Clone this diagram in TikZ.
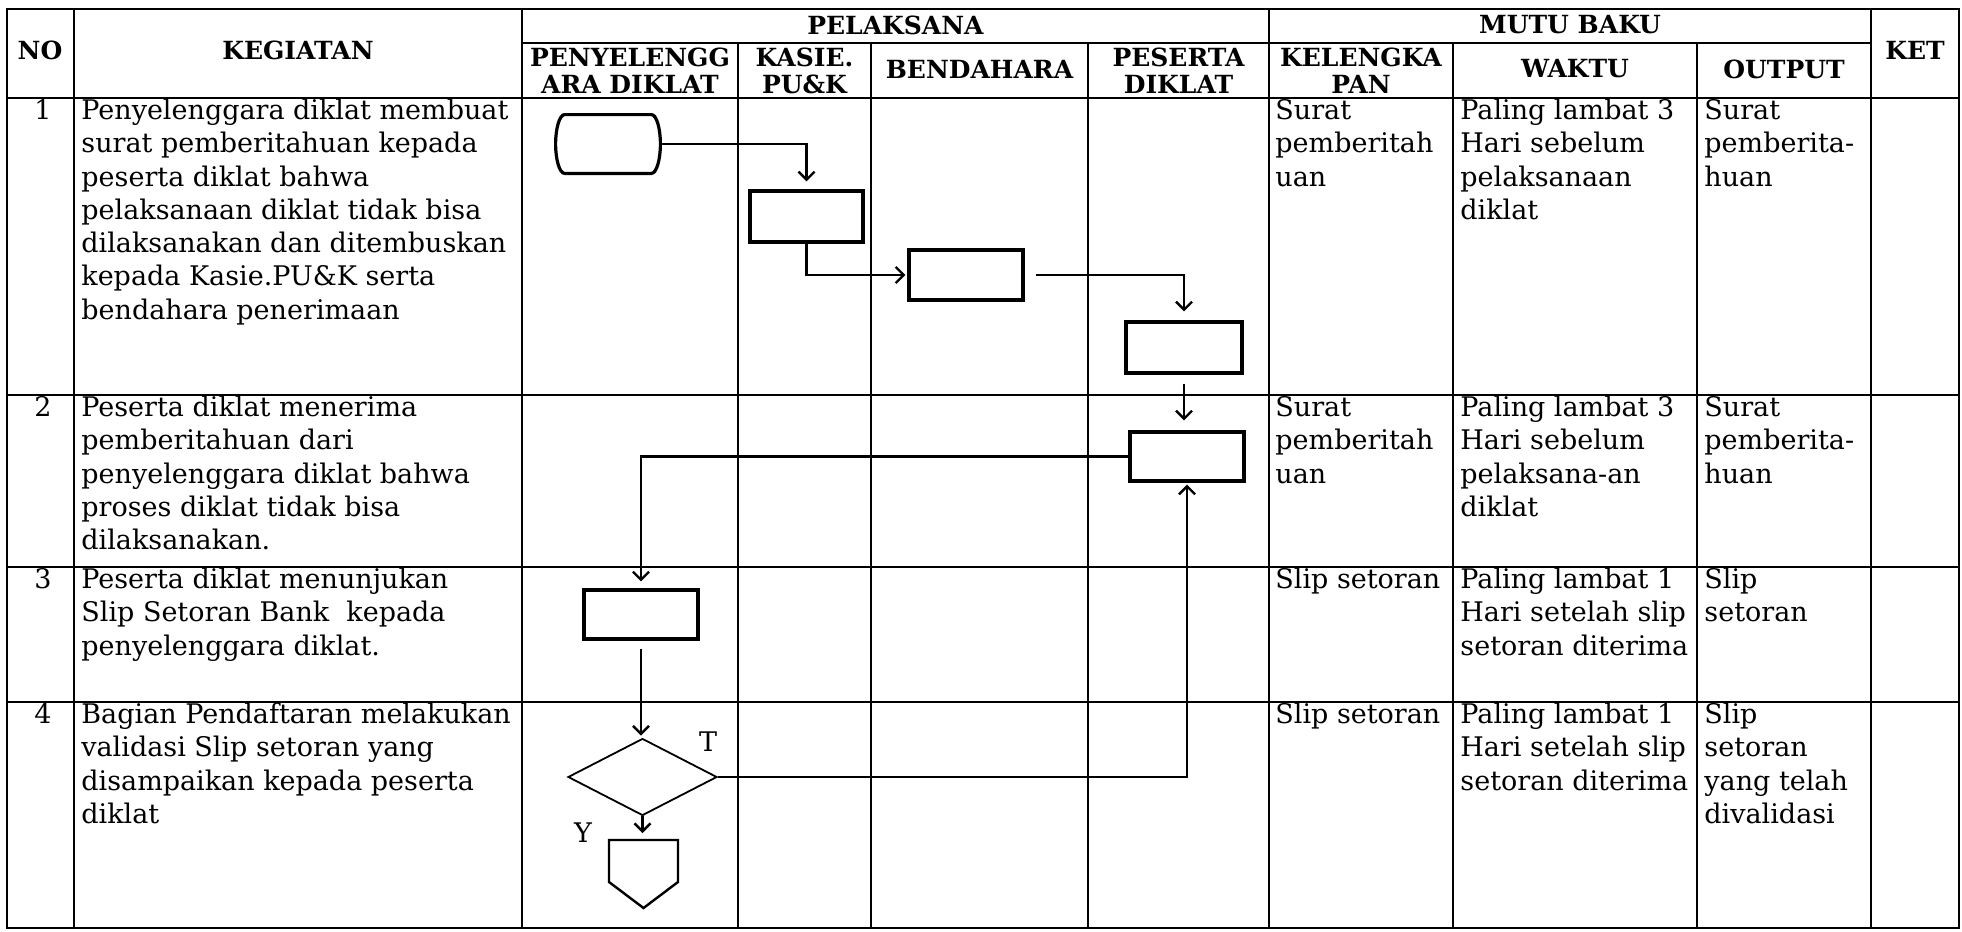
\documentclass[tikz,border=0pt]{standalone}
\usepackage{fontspec}
\setmainfont{DejaVu Serif}
\usetikzlibrary{arrows.meta,shapes.geometric}
\newcommand{\fl}{\rule{0pt}{11pt}}
\tikzset{
  gridline/.style={line width=0.8pt, black},
  hd/.style={font=\fontsize{12.5}{13.5}\selectfont\bfseries, inner sep=0pt, align=center},
  tx/.style={font=\fontsize{13.5}{16.65}\selectfont, inner sep=0pt, align=left, anchor=north west},
  num/.style={font=\fontsize{13.5}{16.65}\selectfont, inner sep=0pt, anchor=north},
  proc/.style={draw, line width=1.6pt, rectangle, inner sep=0pt},
  termbox/.style={rectangle, inner sep=0pt, minimum width=52pt, minimum height=29pt},
  dec/.style={draw, line width=0.9pt, diamond, inner sep=0pt, minimum width=74.5pt, minimum height=38.5pt},
  conn/.style={line width=1.2pt, -{Straight Barb[length=4pt,width=8pt]}},
  lab/.style={font=\fontsize{13.5}{15}\selectfont, inner sep=0pt},
}
\begin{document}
\begin{tikzpicture}[x=0.5pt,y=-0.5pt]
\useasboundingbox (0,0) rectangle (1962,931);
\fill[white] (0,0) rectangle (1962,931);

% table grid
\draw[gridline] (7,9) rectangle (1959,928);
\draw[gridline] (522,43) -- (1871,43);
\foreach \y in {98,395,567,702} \draw[gridline] (7,\y) -- (1959,\y);
\foreach \x in {74,522,1269,1871} \draw[gridline] (\x,9) -- (\x,928);
\foreach \x in {738,871,1088,1453,1697} \draw[gridline] (\x,43) -- (\x,928);

% headers
\node[hd] (hno) at (40,50) {NO};
\node[hd] (hkeg) at (298,50) {KEGIATAN};
\node[hd] (hpel) at (895.5,25) {PELAKSANA};
\node[hd] (hpen) at (630,71) {PENYELENGG\\ARA DIKLAT};
\node[hd] (hkas) at (804.5,71) {KASIE.\\PU\&K};
\node[hd] (hben) at (979.5,69) {BENDAHARA};
\node[hd] (hpes) at (1178.5,71) {PESERTA\\DIKLAT};
\node[hd] (hmut) at (1570,25) {MUTU BAKU};
\node[hd] (hkel) at (1361,71) {KELENGKA\\PAN};
\node[hd] (hwak) at (1575,69) {WAKTU};
\node[hd] (hout) at (1784,69) {OUTPUT};
\node[hd] (hket) at (1915,50) {KET};

% row 1
\node[num] (n1) at (43,97) {\fl 1};
\node[tx] (k1) at (81,97) {\fl Penyelenggara diklat membuat\\surat pemberitahuan kepada\\peserta diklat bahwa\\pelaksanaan diklat tidak bisa\\dilaksanakan dan ditembuskan\\kepada Kasie.PU\&K serta\\bendahara penerimaan};
\node[tx] (l1) at (1275,97) {\fl Surat\\pemberitah\\uan};
\node[tx] (w1) at (1460,97) {\fl Paling lambat 3\\Hari sebelum\\pelaksanaan\\diklat};
\node[tx] (o1) at (1704,97) {\fl Surat\\pemberita-\\huan};

% row 2
\node[num] (n2) at (43,394) {\fl 2};
\node[tx] (k2) at (81,394) {\fl Peserta diklat menerima\\pemberitahuan dari\\penyelenggara diklat bahwa\\proses diklat tidak bisa\\dilaksanakan.};
\node[tx] (l2) at (1275,394) {\fl Surat\\pemberitah\\uan};
\node[tx] (w2) at (1460,394) {\fl Paling lambat 3\\Hari sebelum\\pelaksana-an\\diklat};
\node[tx] (o2) at (1704,394) {\fl Surat\\pemberita-\\huan};

% row 3
\node[num] (n3) at (43,566) {\fl 3};
\node[tx] (k3) at (81,566) {\fl Peserta diklat menunjukan\\Slip Setoran Bank\ \ kepada\\penyelenggara diklat.};
\node[tx] (l3) at (1275,566) {\fl Slip setoran};
\node[tx] (w3) at (1460,566) {\fl Paling lambat 1\\Hari setelah slip\\setoran diterima};
\node[tx] (o3) at (1704,566) {\fl Slip\\setoran};

% row 4
\node[num] (n4) at (43,701) {\fl 4};
\node[tx] (k4) at (81,701) {\fl Bagian Pendaftaran melakukan\\validasi Slip setoran yang\\disampaikan kepada peserta\\diklat};
\node[tx] (l4) at (1275,701) {\fl Slip setoran};
\node[tx] (w4) at (1460,701) {\fl Paling lambat 1\\Hari setelah slip\\setoran diterima};
\node[tx] (o4) at (1704,701) {\fl Slip\\setoran\\yang telah\\divalidasi};

% flow shapes
\node[termbox] (t1) at (608,144) {};
\draw[line width=1.6pt] ([xshift=4.5pt]t1.north west) -- ([xshift=-4.5pt]t1.north east)
  .. controls ([xshift=-2pt]t1.north east) and ([yshift=8pt]t1.east) .. (t1.east)
  .. controls ([yshift=-8pt]t1.east) and ([xshift=-2pt]t1.south east) .. ([xshift=-4.5pt]t1.south east)
  -- ([xshift=4.5pt]t1.south west)
  .. controls ([xshift=2pt]t1.south west) and ([yshift=-8pt]t1.west) .. (t1.west)
  .. controls ([yshift=8pt]t1.west) and ([xshift=2pt]t1.north west) .. ([xshift=4.5pt]t1.north west) -- cycle;
\node[proc, minimum width=56.5pt, minimum height=25.5pt] (bk) at (806.5,216.5) {};
\node[proc, minimum width=57pt, minimum height=25pt] (bb) at (966,275) {};
\node[proc, minimum width=58pt, minimum height=25.5pt] (bp1) at (1184,347.5) {};
\node[proc, minimum width=57pt, minimum height=24.5pt] (bp2) at (1187,456.5) {};
\node[proc, minimum width=57pt, minimum height=24.5pt] (bn) at (641,614.5) {};
\node[dec] (d1) at (642.5,777) {};
\coordinate (off) at (643.5,840);
\draw[line width=1.2pt] (off) ++(-34.5,0) -- ++(69,0) -- ++(0,42) -- ++(-34.5,26) -- ++(-34.5,-26) -- cycle;

% labels
\node[lab] (lt) at (708,742) {T};
\node[lab] (ly) at (583,833) {Y};

% connectors
\draw[conn, shorten >=4pt] (t1.east) -| (bk.north);
\draw[conn, shorten >=1pt] (bk.south) |- (bb.west);
\draw[conn, shorten <=5.5pt, shorten >=4.5pt] (bb.east) -| (bp1.north);
\draw[conn, shorten <=4.5pt, shorten >=5pt] (bp1.south) -- (bp1.south |- bp2.north);
\draw[conn, shorten >=3.5pt] (bp2.west) -| (bn.north);
\draw[conn, shorten <=4pt, shorten >=1pt] (bn.south) -- (bn.south |- d1.north);
\draw[conn, shorten >=1pt] (d1.east) -| (bp2.south);
\draw[conn, shorten >=3.5pt] (d1.south) -- (d1.south |- off);
\end{tikzpicture}
\end{document}
